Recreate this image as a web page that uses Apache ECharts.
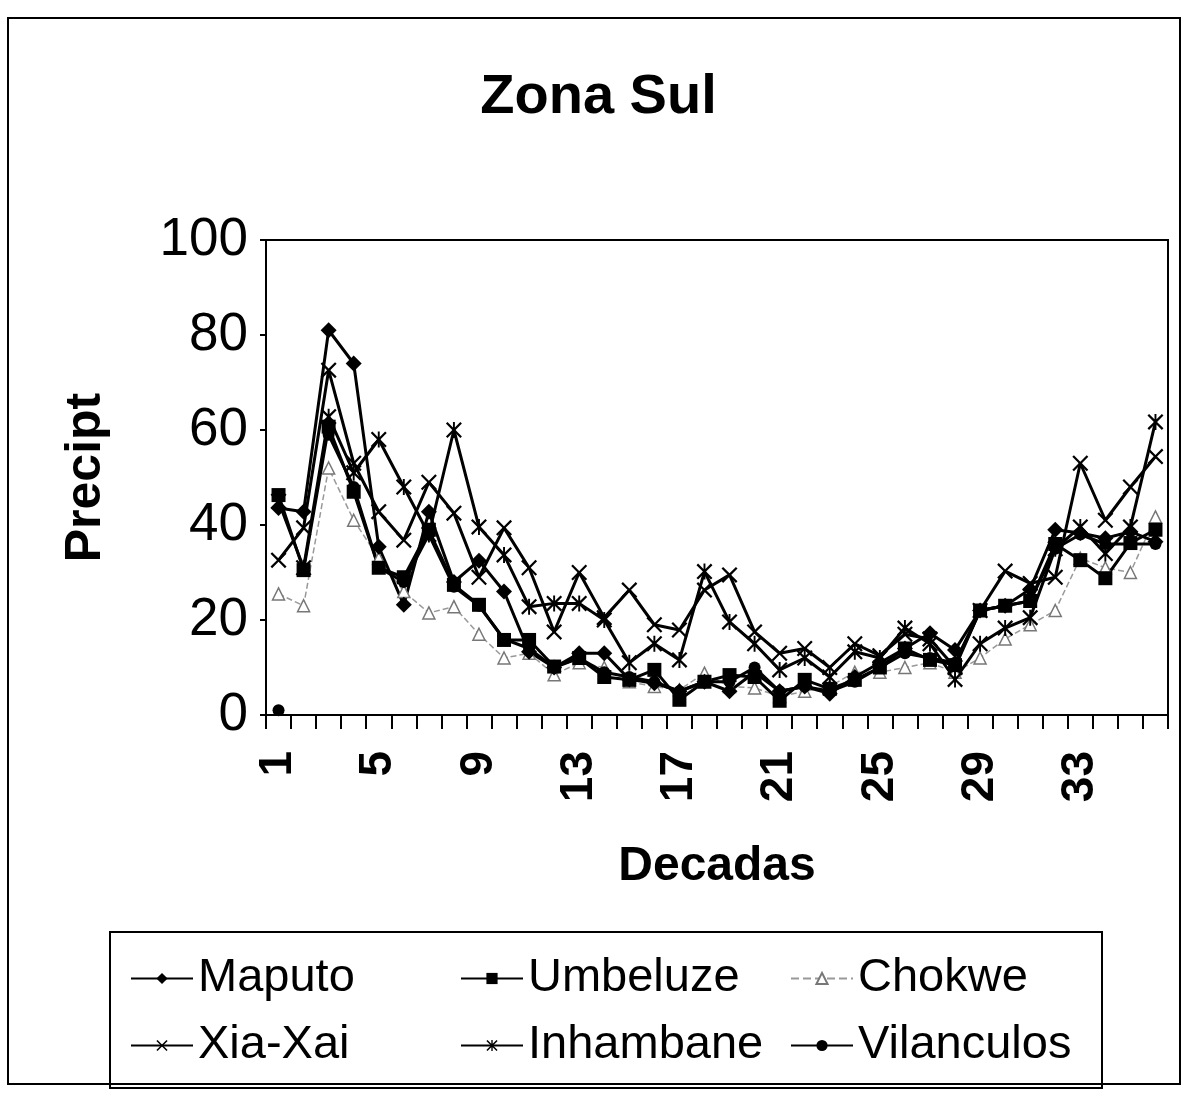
<!DOCTYPE html>
<html>
<head>
<meta charset="utf-8">
<script src="https://cdn.jsdelivr.net/npm/echarts@6/dist/echarts.min.js"></script>
<style>
  html, body { margin: 0; padding: 0; background: #fff; }
  #chart { width: 1197px; height: 1095px; }
</style>
</head>
<body>
<div id="chart"></div>
<script>
// categorias (decadas)
const decadas = ['1','2','3','4','5','6','7','8','9','10','11','12','13','14','15','16','17','18',
  '19','20','21','22','23','24','25','26','27','28','29','30','31','32','33','34','35','36']

// precipitacao por estacao
const maputo = [43.6, 42.8, 81, 74, 35.4, 23.2, 42.8, 28, 32.5, 26, 13.3, 10, 13, 13, 7.5, 6.7, 5, 7,
  5, 9, 5, 6, 4.5, 8, 11, 14, 17.2, 13.7, 22, 23, 26.5, 39, 38.3, 37.2, 38.6, 36.5]
const umbeluze = [46.3, 30.5, 60.7, 47, 31, 29, 39, 27.4, 23.2, 15.8, 15.8, 10.2, 12, 8, 7.4, 9.5, 3.2, 7,
  8.4, 8, 3, 7.4, 5.5, 7.4, 10, 14, 11.6, 10.5, 22, 23, 24, 36, 32.6, 28.8, 36.2, 39]
const chokwe = [25.5, 23, 52, 41, 33, 26, 21.5, 22.8, 17, 12, 13, 8.5, 11, 10, 7, 6, 5.3, 8.8,
  6, 5.7, 3.9, 5, 6, 9, 9, 10, 11, 9, 12, 16, 19, 22, 33, 31, 30, 41.7]
const xiaXai = [32.6, 39.4, 72.6, 53, 42.8, 36.8, 49, 42.5, 29, 39.4, 31, 17.5, 30, 20.5, 26.3, 19, 17.9, 26.3,
  29.5, 17.5, 13, 14, 10, 15, 12.5, 17, 16, 10, 22, 30.3, 27.7, 29, 53, 41, 48, 54.4]
const inhambane = [45, 31, 62.8, 51, 58, 48, 38, 60, 39.6, 33.7, 22.8, 23.5, 23.5, 20, 11, 15, 11.6, 30.2,
  19.6, 15, 9.5, 12, 8, 13.3, 12, 18.3, 15, 7.5, 15, 18.3, 20.5, 35, 39.6, 34, 39.6, 61.7]
const vilanculos = [1, null, 59, 48, 31, 28, 38, 27, 23, 16, 14, 10, 12, 9, 8, 7, 5, 7,
  7, 10, 5, 6, 5, 7, 10, 13, 12, 11, 22, 23, 24, 35, 38, 36, 36, 36]

// simbolos
const xSymbol = 'path://M0,1 L1,0 L5,4 L9,0 L10,1 L6,5 L10,9 L9,10 L5,6 L1,10 L0,9 L4,5 Z'
const starSymbol = xSymbol + ' M4.4,0 L5.6,0 L5.6,10 L4.4,10 Z'

const chart = echarts.init(document.getElementById('chart'))

const mkSeries = (name, data, symbol, size, extra) => Object.assign({
  name,
  type: 'line',
  data,
  symbol,
  symbolSize: size,
  showAllSymbol: true,
  connectNulls: false,
  lineStyle: { color: '#000', width: 3 },
  itemStyle: { color: '#000', borderColor: '#000', borderWidth: 0 },
  emphasis: { disabled: true }
}, extra || {})

const legendFont = { fontFamily: 'Liberation Sans', fontSize: 47, color: '#000' }
const mkLegend = (name, left, top) => ({
  data: [name],
  left,
  top,
  itemWidth: 62,
  itemHeight: 14,
  textStyle: legendFont,
  selectedMode: false
})

const option = {
  animation: false,
  backgroundColor: '#fff',
  title: {
    text: 'Zona Sul',
    left: 'center',
    top: 65,
    textStyle: { fontFamily: 'Liberation Sans', fontWeight: 'bold', fontSize: 56, color: '#000' }
  },
  graphic: [
    { type: 'rect', shape: { x: 8, y: 18, width: 1172, height: 1066 }, style: { fill: 'none', stroke: '#000', lineWidth: 2 } },
    { type: 'rect', shape: { x: 110, y: 932, width: 992, height: 156 }, style: { fill: 'none', stroke: '#000', lineWidth: 2 } }
  ],
  legend: [
    mkLegend('Maputo', 125, 950),
    mkLegend('Umbeluze', 455, 950),
    mkLegend('Chokwe', 785, 950),
    mkLegend('Xia-Xai', 125, 1017),
    mkLegend('Inhambane', 455, 1017),
    mkLegend('Vilanculos', 785, 1017)
  ],
  grid: {
    left: 266,
    right: 29,
    top: 240,
    bottom: 380,
    show: true,
    borderColor: '#000',
    borderWidth: 2,
    backgroundColor: '#fff'
  },
  xAxis: {
    type: 'category',
    data: decadas,
    boundaryGap: true,
    name: 'Decadas',
    nameLocation: 'middle',
    nameGap: 128,
    nameTextStyle: { fontFamily: 'Liberation Sans', fontWeight: 'bold', fontSize: 48, color: '#000' },
    axisLine: { lineStyle: { color: '#000', width: 2 } },
    axisTick: { show: true, length: 14, interval: 0, lineStyle: { color: '#000', width: 2 } },
    axisLabel: {
      interval: 3,
      rotate: 90,
      margin: 36,
      fontFamily: 'Liberation Sans',
      fontWeight: 'bold',
      fontSize: 46,
      color: '#000'
    },
    splitLine: { show: false }
  },
  yAxis: {
    type: 'value',
    min: 0,
    max: 100,
    interval: 20,
    name: 'Precipt',
    nameLocation: 'middle',
    nameRotate: 90,
    nameGap: 155,
    nameTextStyle: { fontFamily: 'Liberation Sans', fontWeight: 'bold', fontSize: 50, color: '#000' },
    axisLine: { show: true, lineStyle: { color: '#000', width: 2 } },
    axisTick: { show: true, length: 6, lineStyle: { color: '#000', width: 2 } },
    axisLabel: {
      margin: 18,
      fontFamily: 'Liberation Sans',
      fontSize: 53,
      color: '#000'
    },
    splitLine: { show: false }
  },
  series: [
    mkSeries('Chokwe', chokwe, 'triangle', 12, {
      lineStyle: { color: '#999', width: 1.5, type: 'dashed' },
      itemStyle: { color: '#fff', borderColor: '#777', borderWidth: 1.5 }
    }),
    mkSeries('Vilanculos', vilanculos, 'circle', 12),
    mkSeries('Umbeluze', umbeluze, 'rect', 14),
    mkSeries('Inhambane', inhambane, starSymbol, 16),
    mkSeries('Xia-Xai', xiaXai, xSymbol, 16),
    mkSeries('Maputo', maputo, 'diamond', 16)
  ]
}

chart.setOption(option)
</script>
</body>
</html>
